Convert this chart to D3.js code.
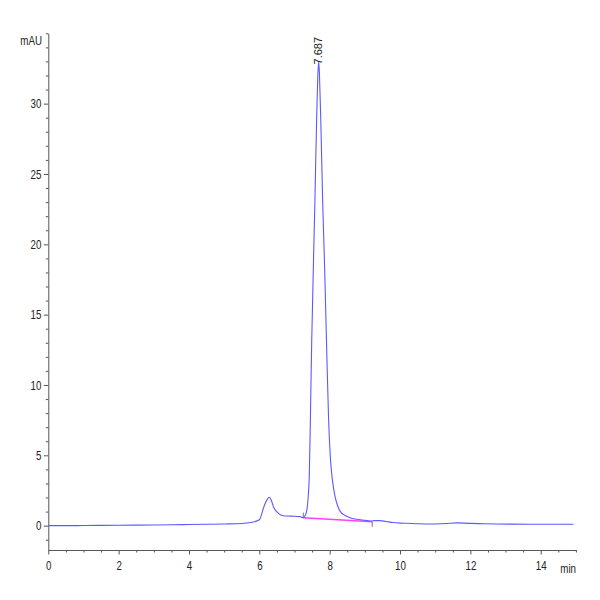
<!DOCTYPE html>
<html>
<head>
<meta charset="utf-8">
<script src="https://cdn.jsdelivr.net/npm/d3@7"></script>
<style>
  html, body { margin: 0; padding: 0; background: #fff; }
  svg text { font-family: "Liberation Sans", Arial, sans-serif; }
</style>
</head>
<body>
<svg id="chart" width="600" height="600"></svg>
<script>
// ---- data ----
const times = [0, 0.5, 1, 1.5, 2, 2.5, 3, 3.5, 4, 4.5, 5, 5.5, 5.75, 6.0, 6.13, 6.22, 6.28, 6.34, 6.40, 6.54, 6.68, 6.9, 7.16, 7.25, 7.30, 7.35, 7.42, 7.46, 7.49, 7.58, 7.63, 7.66, 7.687, 7.71, 7.75, 7.80, 7.86, 7.92, 7.97, 8.02, 8.08, 8.15, 8.22, 8.29, 8.44, 8.6, 8.77, 9.0, 9.15, 9.3, 9.43, 9.6, 9.8, 10.0, 10.19, 10.5, 10.95, 11.3, 11.61, 12.0, 12.4, 12.75, 13.2, 14.0, 14.93];
const signal = [0, 0.0, 0.01, 0.02, 0.03, 0.04, 0.05, 0.06, 0.08, 0.1, 0.12, 0.15, 0.22, 0.42, 1.35, 1.85, 2.02, 1.8, 1.35, 0.88, 0.71, 0.68, 0.64, 0.57, 0.7, 1.1, 3.5, 8.9, 13.2, 23.1, 29, 31.8, 33.0, 32, 28.5, 23.1, 18, 12.0, 7.5, 4.8, 3.2, 2.1, 1.45, 1.05, 0.72, 0.55, 0.45, 0.38, 0.33, 0.36, 0.36, 0.3, 0.22, 0.18, 0.17, 0.14, 0.12, 0.15, 0.2, 0.16, 0.14, 0.12, 0.11, 0.1, 0.1];
const baselineTimes = [7.25, 9.21];
const baselineValues = [0.57, 0.28];
const peakTime = 7.687;
const peakValue = 33.0;
const peakLabel = "7.687";
const xMajorTicks = [0, 2, 4, 6, 8, 10, 12, 14];
const yMajorTicks = [0, 5, 10, 15, 20, 25, 30];
const xUnit = "min";
const yUnit = "mAU";

// ---- layout ----
const svg = d3.select("#chart");
const x = d3.scaleLinear().domain([0, 15]).range([48.3, 575.9]);
const y = d3.scaleLinear().domain([-1.73, 35]).range([550, 33.3]);

const axisColor = "#555";
const textColor = "#222";
const squeeze = 0.75; // narrow-font look

// x axis
const xMinor = d3.range(0, 15.01, 0.5).filter(v => !xMajorTicks.includes(v));
const gx = svg.append("g").attr("transform", `translate(0,${y.range()[0]})`);
gx.call(d3.axisBottom(x).tickValues(xMajorTicks).tickSize(4.5).tickSizeOuter(0).tickPadding(6).tickFormat(d3.format("d")));
gx.append("g").call(d3.axisBottom(x).tickValues(xMinor).tickSize(2.5).tickSizeOuter(0).tickFormat(""))
  .select(".domain").remove();
gx.selectAll("path,line").attr("stroke", axisColor);
gx.selectAll("text").attr("fill", textColor).attr("font-size", 13)
  .attr("transform", `scale(${squeeze},1)`);

// y axis
const yMinor = d3.range(-1, 35.01, 1).filter(v => !yMajorTicks.includes(v));
const gy = svg.append("g").attr("transform", `translate(${x.range()[0]},0)`);
gy.call(d3.axisLeft(y).tickValues(yMajorTicks).tickSize(4.5).tickSizeOuter(0).tickPadding(3).tickFormat(d3.format("d")));
gy.append("g").call(d3.axisLeft(y).tickValues(yMinor).tickSize(2.5).tickSizeOuter(0).tickFormat(""))
  .select(".domain").remove();
gy.selectAll("path,line").attr("stroke", axisColor);
gy.selectAll("text").attr("fill", textColor).attr("font-size", 13)
  .attr("x", -7 / squeeze).attr("transform", `scale(${squeeze},1)`);

// unit labels
svg.append("text").attr("text-anchor", "end")
  .attr("transform", `translate(42,45) scale(${squeeze},1)`)
  .attr("font-size", 13).attr("fill", textColor).text(yUnit);
svg.append("text").attr("text-anchor", "end")
  .attr("transform", `translate(576,573) scale(${squeeze},1)`)
  .attr("font-size", 13).attr("fill", textColor).text(xUnit);

// integration baseline
svg.append("line")
  .attr("x1", x(baselineTimes[0])).attr("y1", y(baselineValues[0]))
  .attr("x2", x(baselineTimes[1])).attr("y2", y(baselineValues[1]))
  .attr("stroke", "#ff40ff").attr("stroke-width", 1.5);

// baseline markers
svg.append("line").attr("x1", x(baselineTimes[0])).attr("x2", x(baselineTimes[0]))
  .attr("y1", y(baselineValues[0]) - 5).attr("y2", y(baselineValues[0]))
  .attr("stroke", "#777").attr("stroke-width", 1);
svg.append("line").attr("x1", x(baselineTimes[1])).attr("x2", x(baselineTimes[1]))
  .attr("y1", y(baselineValues[1])).attr("y2", y(baselineValues[1]) + 5)
  .attr("stroke", "#777").attr("stroke-width", 1);

// trace
const pts = times.map((t, i) => [t, signal[i]]);
const line = d3.line().x(d => x(d[0])).y(d => y(d[1])).curve(d3.curveMonotoneX);
svg.append("path").datum(pts).attr("d", line)
  .attr("fill", "none").attr("stroke", "#5a5aff").attr("stroke-width", 1.1);

// peak label
const px = x(peakTime), py = y(peakValue) + 3;
svg.append("text")
  .attr("transform", `translate(${px + 3.5},${py}) rotate(-90)`)
  .attr("font-size", 11).attr("fill", textColor)
  .attr("text-anchor", "start")
  .text(peakLabel);
</script>
</body>
</html>
